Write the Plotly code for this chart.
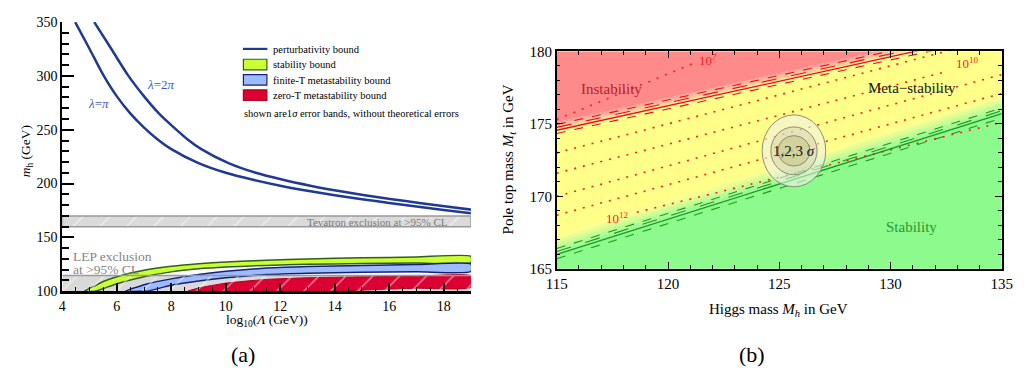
import plotly.graph_objects as go

SERIF = "Liberation Serif"
W, H = 1026, 380


def px(x):
    return x / W


def py(y):
    return 1 - y / H


# ---------------- panel (a): bounds vs. cut-off scale ----------------
# perturbativity bounds
pert_pi_x = [4.47, 5.0, 5.5, 6.0, 6.5, 7.0, 7.5, 8.0, 9.0, 10.0, 11.0, 12.0, 13.0, 14.0,
             15.0, 16.0, 17.0, 18.0, 19.0]
pert_pi_m = [350, 325, 301, 281, 265, 252, 241, 232, 219, 210, 203.5, 198, 193.3, 189.2,
             185.5, 182, 178.7, 175.5, 172.5]
pert_2pi_x = [5.17, 5.8, 6.4, 7.0, 7.55, 8.1, 8.6, 9.1, 10.1, 11.1, 12.1, 13.1, 14.1,
              15.1, 16.1, 17.1, 18.1, 19.1]
pert_2pi_m = [350, 325, 301, 281, 265, 252, 241, 232, 219, 210, 203.5, 198, 193.3,
              189.2, 185.5, 182, 178.7, 175.5]

# stability bound (1 sigma band)
stab_x = [4.8, 5.2, 5.5, 6.0, 7.0, 8.0, 9.0, 10.0, 11.5, 13.0, 15.0, 17.0, 19.0]
stab_hi = [100, 105, 109, 113.5, 119.5, 123.2, 125.6, 127.2, 128.8, 130.0, 131.0, 131.8, 132.4]
stab_lo = [100, 100, 102.5, 107, 113.5, 118.0, 120.8, 122.5, 124.0, 125.0, 125.7, 126.2, 126.6]

# finite-T metastability bound
finT_x = [6.3, 7.0, 7.1, 8.0, 9.0, 10.0, 11.5, 13.0, 15.0, 17.0, 19.0]
finT_hi = [100, 106, 106.8, 111.5, 115.5, 118.5, 121.5, 123.0, 124.0, 124.8, 125.3]
finT_lo = [100, 100, 100, 105.5, 109.5, 112.5, 115.5, 116.8, 117.6, 118.1, 118.4]

# zero-T metastability bound
zeroT_x = [8.6, 9.0, 10.0, 11.5, 13.0, 14.0, 15.0, 16.0, 17.0, 19.0]
zeroT_hi = [100, 103, 107.5, 111.0, 112.5, 113.0, 113.4, 113.7, 113.9, 114.2]
zeroT_lo = [100, 100, 100, 100, 100, 100, 101, 102, 102.8, 103.8]

# experimental exclusions
lam_range = [4, 19]
lep_band = [100, 114.6]
tev_band = [160, 170]

# ---------------- panel (b): Mt-Mh phase diagram ----------------
mh_ends = [115, 135]
inst_line = [174.56, 181.32]        # instability boundary
stab_line = [166.0, 175.7]          # absolute stability boundary
inst_err = [0.4, 0.2, -0.22]        # offsets of the error lines
stab_err = [0.4, 0.2, -0.3]
err_dash = ["dash", "longdash", "dash"]

# lines of constant instability scale (Mh, Mt end points)
scale_lines = [
    ([115, 121.3], [175.3, 179.27]),
    ([115, 135], [173.0, 181.0]),
    ([115, 132.5], [171.6, 178.6]),
    ([115, 135], [170.0, 178.4]),
    ([115, 135], [168.7, 177.1]),
    ([118.6, 135], [168.9, 175.1]),
]
scale_labels = [("10<sup>7</sup>", 121.8, 179.4),
                ("10<sup>10</sup>", 133.46, 179.2),
                ("10<sup>12</sup>", 117.73, 168.5)]

# 1,2,3 sigma contours: centre and semi-axes
ell_centre = (125.66, 173.14)
ell_semi_mh = [1.43, 1.04, 0.72]
ell_semi_mt = [2.48, 1.65, 1.05]
ell_fill = ["rgba(240,240,228,0.6)", "rgba(190,190,150,0.30)", "rgba(170,170,110,0.32)"]

RED = (255, 138, 138)
YEL = (255, 255, 138)
GRN = (140, 250, 140)

fig = go.Figure()


def band(xs, hi, lo, fill, edge, width=1.5):
    fig.add_trace(go.Scatter(
        x=list(xs) + list(xs)[::-1], y=list(hi) + list(lo)[::-1],
        fill="toself", fillcolor=fill, mode="lines",
        line=dict(color=edge, width=width, shape="spline", smoothing=0.6),
        hoverinfo="skip", showlegend=False))


# LEP exclusion (grey base)
fig.add_trace(go.Scatter(
    x=[lam_range[0], lam_range[1], lam_range[1], lam_range[0]],
    y=[lep_band[0], lep_band[0], lep_band[1], lep_band[1]],
    fill="toself", fillcolor="#d9d9d9", mode="lines", line=dict(width=0),
    hoverinfo="skip", showlegend=False))

# Tevatron exclusion
fig.add_trace(go.Scatter(
    x=[lam_range[0], lam_range[1], lam_range[1], lam_range[0], lam_range[0]],
    y=[tev_band[0], tev_band[0], tev_band[1], tev_band[1], tev_band[0]],
    fill="toself", fillcolor="#dadada", mode="lines",
    fillpattern=dict(shape="/", fgcolor="white", bgcolor="#dadada", size=19, solidity=0.08),
    line=dict(color="#9a9a9a", width=1.5), hoverinfo="skip", showlegend=False))

band(stab_x, stab_hi, stab_lo, "#ccff33", "#2f5f1f")
band(finT_x, finT_hi, finT_lo, "#9dbcff", "#15207a")
band(zeroT_x, zeroT_hi, zeroT_lo, "#dd0033", "#b00020", width=1)

# LEP hatching over the bands
fig.add_trace(go.Scatter(
    x=[lam_range[0], lam_range[1], lam_range[1], lam_range[0]],
    y=[lep_band[0], lep_band[0], lep_band[1], lep_band[1]],
    fill="toself", fillcolor="rgba(0,0,0,0)", mode="lines", line=dict(width=0),
    fillpattern=dict(shape="/", fgcolor="white", bgcolor="rgba(0,0,0,0)", size=19, solidity=0.08),
    hoverinfo="skip", showlegend=False))
fig.add_trace(go.Scatter(
    x=lam_range, y=[lep_band[1], lep_band[1]], mode="lines",
    line=dict(color="#9a9a9a", width=1.5), hoverinfo="skip", showlegend=False))

for xs, ms in ((pert_pi_x, pert_pi_m), (pert_2pi_x, pert_2pi_m)):
    fig.add_trace(go.Scatter(x=xs, y=ms, mode="lines",
                             line=dict(color="#1f3a93", width=2.5, shape="spline", smoothing=0.8),
                             hoverinfo="skip", showlegend=False))


# ---------------- panel (b) drawing ----------------
def mix(c1, c2, t):
    return "rgb(%d,%d,%d)" % tuple(round(a + (b - a) * t) for a, b in zip(c1, c2))


def strip(base, o_top, o_bot, color):
    """Band parallel to a boundary line, between two Mt offsets."""
    fig.add_trace(go.Scatter(
        x=[mh_ends[0], mh_ends[1], mh_ends[1], mh_ends[0]],
        y=[base[0] + o_top, base[1] + o_top, base[1] + o_bot, base[0] + o_bot],
        fill="toself", fillcolor=color, mode="lines", line=dict(width=0),
        xaxis="x2", yaxis="y2", hoverinfo="skip", showlegend=False))


# regions: instability (red), meta-stability (yellow), stability (green)
strip(inst_line, 20, 0.55, mix(RED, RED, 0))
fig.add_trace(go.Scatter(
    x=[mh_ends[0], mh_ends[1], mh_ends[1], mh_ends[0]],
    y=[inst_line[0] - 0.1, inst_line[1] - 0.1, stab_line[1] + 1.2, stab_line[0] + 1.2],
    fill="toself", fillcolor=mix(YEL, YEL, 0), mode="lines", line=dict(width=0),
    xaxis="x2", yaxis="y2", hoverinfo="skip", showlegend=False))
strip(stab_line, 0.1, -20, mix(GRN, GRN, 0))

# soft transitions across the boundaries
N = 12
for k in range(N):
    a = 0.55 - (0.65 * k / N)
    b = 0.55 - (0.65 * (k + 1) / N)
    strip(inst_line, a, b - 0.01, mix(RED, YEL, (k + 0.5) / N))
    a = 1.2 - (1.1 * k / N)
    b = 1.2 - (1.1 * (k + 1) / N)
    strip(stab_line, a, b - 0.01, mix(YEL, GRN, (k + 0.5) / N))

# boundary lines with error lines
for base, errs, col in ((inst_line, inst_err, "#e8101e"), (stab_line, stab_err, "#1f9a1f")):
    fig.add_trace(go.Scatter(x=mh_ends, y=base, mode="lines", line=dict(color=col, width=1.3),
                             xaxis="x2", yaxis="y2", hoverinfo="skip", showlegend=False))
    for off, dsh in zip(errs, err_dash):
        fig.add_trace(go.Scatter(x=mh_ends, y=[base[0] + off, base[1] + off], mode="lines",
                                 line=dict(color=col, width=1.1, dash=dsh),
                                 xaxis="x2", yaxis="y2", hoverinfo="skip", showlegend=False))

# lines of constant scale
for xs, ys in scale_lines:
    fig.add_trace(go.Scatter(x=xs, y=ys, mode="lines",
                             line=dict(color="#ff1a1a", width=1.6, dash="2px,7px"),
                             xaxis="x2", yaxis="y2", hoverinfo="skip", showlegend=False))

shapes = []
for sx, sy, fc in zip(ell_semi_mh, ell_semi_mt, ell_fill):
    shapes.append(dict(type="circle", xref="x2", yref="y2", layer="above",
                       x0=ell_centre[0] - sx, x1=ell_centre[0] + sx,
                       y0=ell_centre[1] - sy, y1=ell_centre[1] + sy,
                       fillcolor=fc, line=dict(color="#8c8c7c", width=1)))

# legend of panel (a)
shapes.append(dict(type="line", xref="paper", yref="paper", x0=px(237), x1=px(262),
                   y0=py(42.7), y1=py(42.7), line=dict(color="#1f3a93", width=2.2)))
for (y0, y1), fc, lc in (((53.5, 64.5), "#ccff33", "#2f5f1f"),
                         ((69.5, 80.5), "#9dbcff", "#15207a"),
                         ((85.5, 96.5), "#dd0033", "#b00020")):
    shapes.append(dict(type="rect", xref="paper", yref="paper", x0=px(237.5), x1=px(261.5),
                       y0=py(y1), y1=py(y0), fillcolor=fc, line=dict(color=lc, width=1.2)))

ann = []


def text(s, x, y, size, color="black", xanchor="center", yanchor="middle", ref="paper", **kw):
    d = dict(text=s, x=x, y=y, showarrow=False, xanchor=xanchor, yanchor=yanchor,
             font=dict(family=SERIF, size=size, color=color))
    if ref == "paper":
        d.update(xref="paper", yref="paper")
    else:
        d.update(xref=ref[0], yref=ref[1])
    d.update(kw)
    ann.append(d)


for s, y in (("perturbativity bound", 43), ("stability bound", 59.5),
             ("finite-T metastability bound", 75.5), ("zero-T metastability bound", 91.5)):
    text(s, px(266), py(y), 10.5, xanchor="left")
text("shown are1<i>σ</i> error bands, without theoretical errors", px(236), py(110), 10.5,
     xanchor="left")

text("<i>λ</i>=2<i>π</i>", 7.62, 292, 13, color="#3a5cc0", ref=("x", "y"))
text("<i>λ</i>=<i>π</i>", 5.33, 274, 13, color="#3a5cc0", ref=("x", "y"))
text("Tevatron exclusion at >95% CL", px(449), py(223), 11, color="#7a7a7a", xanchor="right")
text("LEP exclusion", px(62), py(259), 13.5, color="#858585", xanchor="left", borderpad=0)
text("at >95% CL", px(62), py(272.5), 13.5, color="#858585", xanchor="left", borderpad=0)
text("log<sub>10</sub>(<i>Λ</i> (GeV))", px(262), py(326), 13.5)
text("<i>m</i><sub>h</sub> (GeV)", px(16), py(150), 13.5, textangle=-90)
text("(a)", px(237), py(362), 22)
text("(b)", px(757), py(362), 22)

# panel (b) texts
text("Instability", 117.47, 177.4, 15, color="#b8202a", ref=("x2", "y2"))
text("Meta−stability", 130.97, 177.45, 15, color="#111111", ref=("x2", "y2"))
text("Stability", 130.96, 167.9, 15, color="#259a35", ref=("x2", "y2"))
text("1,2,3 <i>σ</i>", ell_centre[0], ell_centre[1], 15, color="#111111", ref=("x2", "y2"))
for s, x, y in scale_labels:
    text(s, x, y, 13, color="#ff1a1a", ref=("x2", "y2"))
text("Higgs mass <i>M<sub>h</sub></i> in GeV", px(784), py(315), 15)
text("Pole top mass <i>M<sub>t</sub></i> in GeV", px(509), py(158), 15, textangle=-90)

tickfont_a = dict(family=SERIF, size=14, color="black")
tickfont_b = dict(family=SERIF, size=15, color="black")

fig.update_layout(
    width=W, height=H, margin=dict(l=0, r=0, t=0, b=0),
    paper_bgcolor="white", plot_bgcolor="rgba(0,0,0,0)",
    shapes=shapes, annotations=ann, showlegend=False,
    xaxis=dict(domain=[px(52.5), px(470)], range=lam_range, anchor="y",
               tickvals=[4, 6, 8, 10, 12, 14, 16, 18], ticks="inside", ticklen=8, tickwidth=1.5,
               tickcolor="black", showline=True, linewidth=2.5, linecolor="black",
               showgrid=False, zeroline=False, tickfont=tickfont_a,
               minor=dict(dtick=0.5, tick0=4, ticks="inside", ticklen=4, tickcolor="black",
                          tickwidth=1, showgrid=False)),
    yaxis=dict(domain=[py(295.7), py(14.7)], range=[100, 350], anchor="x",
               tickvals=[100, 150, 200, 250, 300, 350], ticks="inside", ticklen=12, tickwidth=2,
               tickcolor="black", showline=True, linewidth=2, linecolor="black",
               showgrid=False, zeroline=False, tickfont=tickfont_a,
               minor=dict(dtick=10, tick0=100, ticks="inside", ticklen=7, tickcolor="black",
                          tickwidth=1.5, showgrid=False)),
    xaxis2=dict(domain=[px(557.7), px(1012.5)], range=[115, 135], anchor="y2",
                tickvals=[115, 120, 125, 130, 135], ticks="inside", ticklen=7, tickwidth=1.2,
                tickcolor="black", showline=True, linewidth=1.5, linecolor="black",
                mirror="allticks", showgrid=False, zeroline=False, tickfont=tickfont_b,
                minor=dict(dtick=1, tick0=115, ticks="inside", ticklen=4, tickcolor="black",
                           tickwidth=1, showgrid=False)),
    yaxis2=dict(domain=[py(272.3), py(45.3)], range=[165, 180], anchor="x2",
                tickvals=[165, 170, 175, 180], ticks="inside", ticklen=7, tickwidth=1.2,
                tickcolor="black", showline=True, linewidth=1.5, linecolor="black",
                mirror="allticks", showgrid=False, zeroline=False, tickfont=tickfont_b,
                minor=dict(dtick=1, tick0=165, ticks="inside", ticklen=4, tickcolor="black",
                           tickwidth=1, showgrid=False)),
)

fig.write_html("out.html")
